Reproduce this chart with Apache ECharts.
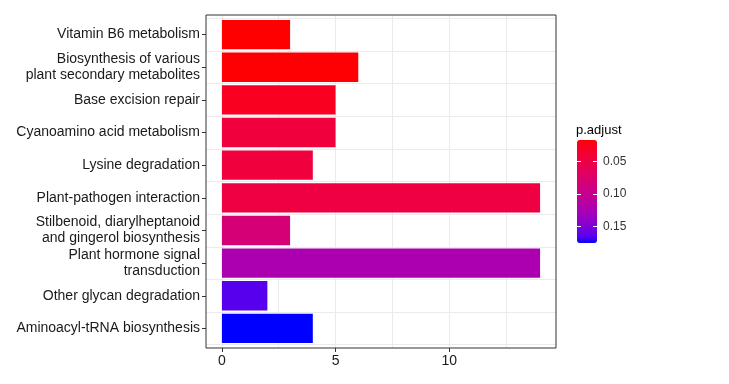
<!DOCTYPE html>
<html>
<head>
<meta charset="utf-8">
<script src="https://cdn.jsdelivr.net/npm/echarts@6/dist/echarts.min.js"></script>
<style>html,body{margin:0;padding:0;background:#fff;}#chart{width:729px;height:384px;}</style>
</head>
<body>
<div id="chart"></div>
<script>
const categories = [
  'Vitamin B6 metabolism',
  'Biosynthesis of various\nplant secondary metabolites',
  'Base excision repair',
  'Cyanoamino acid metabolism',
  'Lysine degradation',
  'Plant-pathogen interaction',
  'Stilbenoid, diarylheptanoid\nand gingerol biosynthesis',
  'Plant hormone signal\ntransduction',
  'Other glycan degradation',
  'Aminoacyl-tRNA biosynthesis'
];
const counts = [3, 6, 5, 5, 4, 14, 3, 14, 2, 4];
const pAdjust = [0.017, 0.018, 0.028, 0.044, 0.044, 0.047, 0.083, 0.123, 0.164, 0.175];
const xTickValues = [0, 5, 10];
const xGridValues = [0, 2.5, 5, 7.5, 10, 12.5];
const legendTickValues = [0.05, 0.10, 0.15];
const legendTitle = 'p.adjust';

// ---- Lab interpolation (ggplot-like gradient red -> blue) ----
function srgbToLin(c){c/=255;return c<=0.04045?c/12.92:Math.pow((c+0.055)/1.055,2.4);}
function linToSrgb(c){c=Math.max(0,Math.min(1,c));const v=c<=0.0031308?12.92*c:1.055*Math.pow(c,1/2.4)-0.055;return Math.round(v*255);}
const Wn=[0.95047,1,1.08883];
function f(t){return t>0.008856?Math.cbrt(t):7.787*t+16/116;}
function finv(t){const t3=t*t*t;return t3>0.008856?t3:(t-16/116)/7.787;}
function rgbToLab(r,g,b){
  const R=srgbToLin(r),G=srgbToLin(g),B=srgbToLin(b);
  const X=(0.4124*R+0.3576*G+0.1805*B)/Wn[0];
  const Y=(0.2126*R+0.7152*G+0.0722*B)/Wn[1];
  const Z=(0.0193*R+0.1192*G+0.9505*B)/Wn[2];
  const fx=f(X),fy=f(Y),fz=f(Z);
  return [116*fy-16,500*(fx-fy),200*(fy-fz)];
}
function labToHex(L,a,b){
  const fy=(L+16)/116,fx=fy+a/500,fz=fy-b/200;
  const X=finv(fx)*Wn[0],Y=finv(fy)*Wn[1],Z=finv(fz)*Wn[2];
  const R=3.2406*X-1.5372*Y-0.4986*Z;
  const G=-0.9689*X+1.8758*Y+0.0415*Z;
  const B=0.0557*X-0.2040*Y+1.0570*Z;
  return '#'+[R,G,B].map(v=>linToSrgb(v).toString(16).padStart(2,'0')).join('');
}
const lowLab=rgbToLab(255,0,0), highLab=rgbToLab(0,0,255);
const gradient=[];
for(let i=0;i<=24;i++){const t=i/24;gradient.push(labToHex(
  lowLab[0]+(highLab[0]-lowLab[0])*t,
  lowLab[1]+(highLab[1]-lowLab[1])*t,
  lowLab[2]+(highLab[2]-lowLab[2])*t));}

// ---- layout ----
const W=729,H=384;
const panel={left:206,right:556,top:15,bottom:348};
const n=categories.length;
const band=(panel.bottom-panel.top)/(n+0.2);
const padY=0.1*band;
const xMaxData=Math.max(...counts);
const xMin=-0.05*xMaxData, xMax=xMaxData*1.05;
const pMin=Math.min(...pAdjust), pMax=Math.max(...pAdjust);
const cb={left:577,top:140,width:20,height:103};
const FONT='"Liberation Sans", Arial, sans-serif';
const textColor='#1a1a1a';

const data=categories.map((c,i)=>[counts[i],c,pAdjust[i]]);

const chart=echarts.init(document.getElementById('chart'),null,{renderer:'canvas'});
chart.setOption({
  animation:false,
  backgroundColor:'#ffffff',
  textStyle:{fontFamily:FONT},
  title:{text:legendTitle,left:cb.left-1,top:cb.top-16,padding:0,
    textStyle:{fontFamily:FONT,fontSize:13,fontWeight:'normal',color:'#000'}},
  grid:[
    {left:panel.left,right:W-panel.right,top:panel.top,bottom:H-panel.bottom,
     show:true,borderColor:'#333333',borderWidth:1,backgroundColor:'transparent',z:6},
    {left:panel.left,right:W-panel.right,top:panel.top+padY,bottom:H-panel.bottom+padY},
    {left:cb.left,top:cb.top,width:cb.width,height:cb.height}
  ],
  xAxis:[
    {gridIndex:0,type:'value',min:xMin,max:xMax,
     axisLine:{show:false},axisLabel:{show:false},
     axisTick:{show:false,customValues:xGridValues},
     splitLine:{show:true,lineStyle:{color:'#ebebeb',width:1}}},
    {gridIndex:0,type:'value',min:xMin,max:xMax,position:'bottom',
     axisLine:{show:false},
     axisTick:{show:true,length:4,customValues:xTickValues,lineStyle:{color:'#333333'}},
     axisLabel:{show:true,customValues:xTickValues,margin:6,fontSize:14,color:textColor,fontFamily:FONT},
     splitLine:{show:false}},
    {gridIndex:1,type:'value',min:xMin,max:xMax,show:false},
    {gridIndex:2,type:'value',show:false}
  ],
  yAxis:[
    {gridIndex:0,type:'value',show:false},
    {gridIndex:1,type:'category',data:categories,inverse:true,position:'left',
     axisLine:{show:false,onZero:false},
     axisTick:{show:true,length:4,alignWithLabel:true,lineStyle:{color:'#333333'}},
     axisLabel:{margin:6,fontSize:14,lineHeight:16,color:textColor,fontFamily:FONT,padding:[4,0,0,0]},
     splitLine:{show:true,lineStyle:{color:'#ebebeb',width:1}}},
    {gridIndex:2,type:'value',min:pMin,max:pMax,inverse:true,position:'left',z:10,
     axisLine:{show:false},axisLabel:{show:false},splitLine:{show:false},
     axisTick:{show:true,inside:true,length:4,customValues:legendTickValues,lineStyle:{color:'#ffffff',width:1}}},
    {gridIndex:2,type:'value',min:pMin,max:pMax,inverse:true,position:'right',z:10,
     axisLine:{show:false},splitLine:{show:false},
     axisTick:{show:true,inside:true,length:4,customValues:legendTickValues,lineStyle:{color:'#ffffff',width:1}},
     axisLabel:{show:true,customValues:legendTickValues,margin:6,fontSize:12,color:'#333333',fontFamily:FONT,
       formatter:v=>Number(v).toFixed(2)}}
  ],
  visualMap:{
    type:'continuous',dimension:2,seriesIndex:0,min:pMin,max:pMax,
    inRange:{color:gradient},
    orient:'vertical',inverse:true,calculable:false,
    left:cb.left,top:cb.top,itemWidth:cb.width,itemHeight:cb.height,padding:0,
    text:null,showLabel:false
  },
  series:[{
    type:'bar',xAxisIndex:2,yAxisIndex:1,
    data:data,encode:{x:0,y:1},
    barWidth:'90%',z:2
  }]
});
</script>
</body>
</html>
